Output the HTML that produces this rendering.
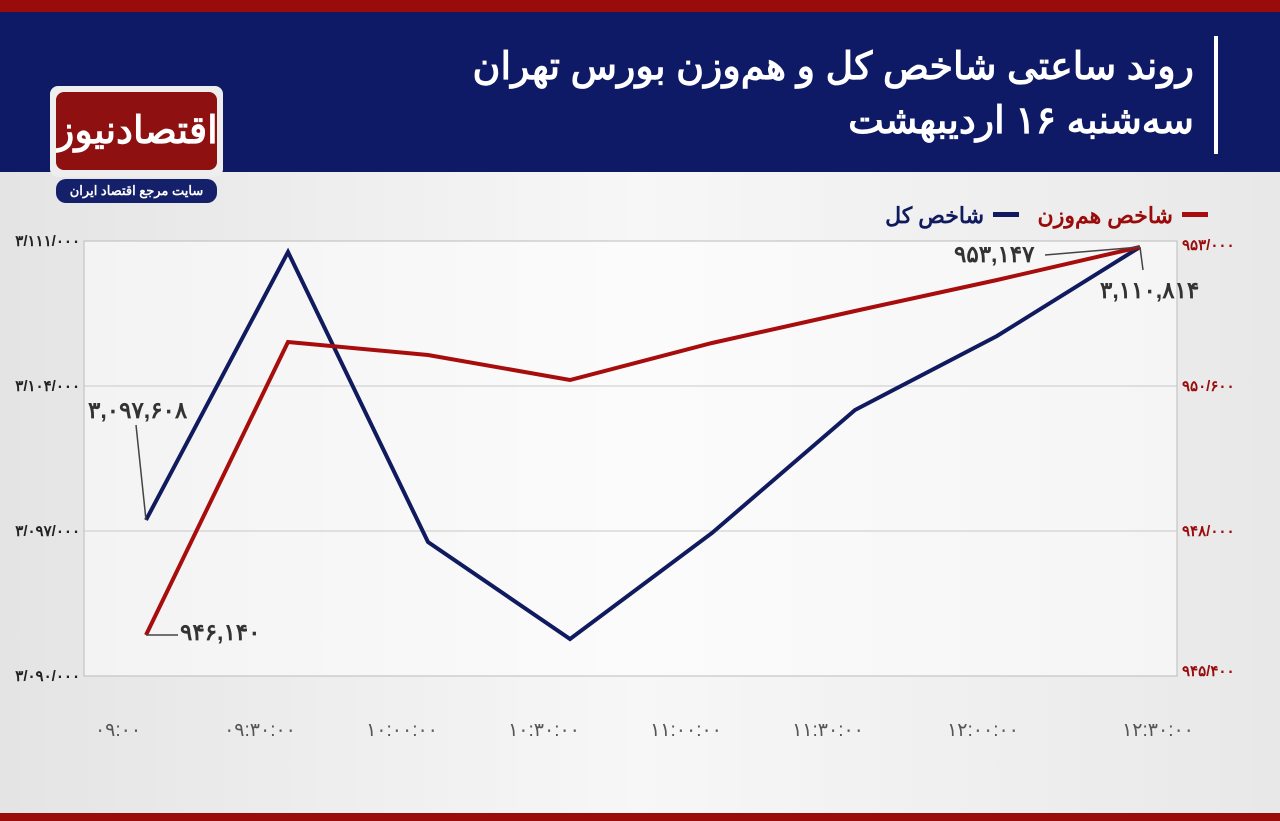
<!DOCTYPE html>
<html><head><meta charset="utf-8"><style>
body{margin:0;width:1280px;height:821px;overflow:hidden;font-family:"Liberation Sans","Noto Sans CJK SC",sans-serif;background:linear-gradient(90deg,#e4e4e4,#f7f7f7 50%,#e8e8e8);position:relative}
.top{position:absolute;left:0;top:0;width:1280px;height:12px;background:#9a0b0b}
.hdr{position:absolute;left:0;top:12px;width:1280px;height:160px;background:#0f1a66}
.bot{position:absolute;left:0;top:813px;width:1280px;height:8px;background:#9a0b0b}
.t{position:absolute;right:86px;color:#fff;font-weight:900;font-size:38px;direction:rtl;white-space:nowrap}
.bar{position:absolute;left:1214px;top:36px;width:4px;height:118px;background:#fff}
.logo{position:absolute;left:50px;top:86px;width:173px;height:91px;background:#eee;border-radius:8px}
.logo div{position:absolute;left:6px;top:6px;width:161px;height:78px;background:#8e1010;border-radius:8px;color:#fff;font-size:38px;font-weight:bold;text-align:center;line-height:78px;font-family:"Liberation Serif","Noto Serif CJK SC",serif;overflow:hidden}
.sub{position:absolute;left:56px;top:179px;width:161px;height:24px;background:#14206a;border-radius:10px;color:#fff;font-size:13px;font-weight:bold;text-align:center;line-height:24px}
</style></head><body>
<div class="top"></div><div class="hdr"></div><div class="bot"></div>
<div class="t" style="top:44px">روند ساعتی شاخص کل و هم‌وزن بورس تهران</div>
<div class="t" style="top:98px">سه‌شنبه ۱۶ اردیبهشت</div>
<div class="bar"></div>
<div class="logo"><div>اقتصادنیوز</div></div>
<div class="sub">سایت مرجع اقتصاد ایران</div>
<svg width="1280" height="821" style="position:absolute;left:0;top:0" font-family="Liberation Sans, Noto Sans CJK SC, sans-serif">
<rect x="84" y="241" width="1093" height="435" fill="#fff" fill-opacity="0.5" stroke="#bbb"/>
<g stroke="#c8c8c8"><line x1="84" y1="386" x2="1177" y2="386"/><line x1="84" y1="531" x2="1177" y2="531"/></g>
<g font-size="15" fill="#222" font-weight="bold" text-anchor="end">
<text x="80" y="246">۳/۱۱۱/۰۰۰</text><text x="80" y="391">۳/۱۰۴/۰۰۰</text><text x="80" y="536">۳/۰۹۷/۰۰۰</text><text x="80" y="681">۳/۰۹۰/۰۰۰</text></g>
<g font-size="15" fill="#9a0b0b" font-weight="bold">
<text x="1182" y="250">۹۵۳/۰۰۰</text><text x="1182" y="391">۹۵۰/۶۰۰</text><text x="1182" y="536">۹۴۸/۰۰۰</text><text x="1182" y="676">۹۴۵/۴۰۰</text></g>
<g font-size="19" fill="#555" text-anchor="middle">
<text x="118" y="736">۰۹:۰۰</text><text x="260" y="736">۰۹:۳۰:۰۰</text><text x="402" y="736">۱۰:۰۰:۰۰</text><text x="544" y="736">۱۰:۳۰:۰۰</text><text x="686" y="736">۱۱:۰۰:۰۰</text><text x="828" y="736">۱۱:۳۰:۰۰</text><text x="983" y="736">۱۲:۰۰:۰۰</text><text x="1158" y="736">۱۲:۳۰:۰۰</text></g>
<polyline points="146,520 288,252 428,542 570,639 712,533 855,410 997,336 1140,247" fill="none" stroke="#101a5e" stroke-width="4"/>
<polyline points="146,635 288,342 428,355 570,380 712,343 855,311 997,280 1140,247" fill="none" stroke="#a80d0d" stroke-width="4"/>
<g stroke="#444" stroke-width="1.5" fill="none">
<polyline points="146,520 136,425"/><polyline points="146,635 178,635"/><polyline points="1140,247 1045,255"/><polyline points="1140,247 1143,270"/></g>
<g font-size="23" fill="#333" font-weight="bold">
<text x="88" y="418">۳,۰۹۷,۶۰۸</text><text x="180" y="640">۹۴۶,۱۴۰</text><text x="954" y="262">۹۵۳,۱۴۷</text><text x="1100" y="298">۳,۱۱۰,۸۱۴</text></g>
<g font-size="22" font-weight="bold" direction="rtl">
<rect x="1182" y="212" width="26" height="5" fill="#a80d0d"/><text x="1173" y="223" fill="#9a0b0b" text-anchor="start">شاخص هم‌وزن</text>
<rect x="993" y="212" width="26" height="5" fill="#101a5e"/><text x="984" y="223" fill="#101a5e" text-anchor="start">شاخص کل</text></g>
</svg>
</body></html>
